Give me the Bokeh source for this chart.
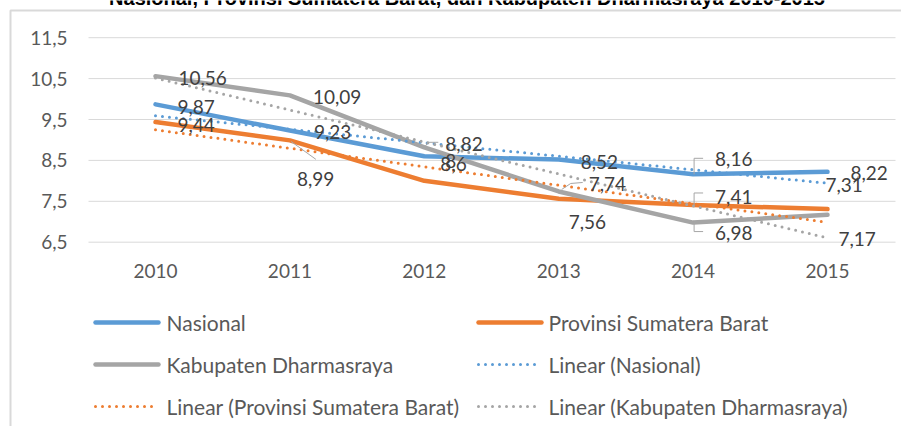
import numpy as np
from bokeh.plotting import figure
from bokeh.models import Range1d, ColumnDataSource
from bokeh.core.properties import value
from bokeh.embed import file_html
from bokeh.resources import INLINE

# ---------------- data ----------------
title_text = "Nasional, Provinsi Sumatera Barat, dan Kabupaten Dharmasraya 2010-2015"
years = [2010, 2011, 2012, 2013, 2014, 2015]
nasional = [9.87, 9.23, 8.6, 8.52, 8.16, 8.22]
provinsi = [9.44, 8.99, 8.0, 7.56, 7.41, 7.31]
kabupaten = [10.56, 10.09, 8.82, 7.74, 6.98, 7.17]
series_names = ["Nasional", "Provinsi Sumatera Barat", "Kabupaten Dharmasraya"]
trend_names = ["Linear (Nasional)", "Linear (Provinsi Sumatera Barat)",
               "Linear (Kabupaten Dharmasraya)"]
y_ticks = [6.5, 7.5, 8.5, 9.5, 10.5, 11.5]
y_tick_labels = ["6,5", "7,5", "8,5", "9,5", "10,5", "11,5"]
x_tick_labels = ["2010", "2011", "2012", "2013", "2014", "2015"]

# ---------------- layout (picture pixels) ----------------
OX, OY = 0, 0            # picture position of the canvas
W, H = 901, 426          # canvas size
X0, SX = 155.0, 134.4    # x of first year, px per year
Y0, SY = 241.7, 40.9     # y of 6.5, px per unit
PLOT_L, PLOT_R = 88, 895
colors = ["#5B9BD5", "#ED7D31", "#A5A5A5"]
FONT = "Lato"


def dx(px):
    return years[0] + (px - X0) / SX


def dy(py):
    return y_ticks[0] + (Y0 - py) / SY


# data-label pixel offsets (left edge dx, centre dy) per series, per year
label_offsets = [
    [(22, 3), (24, 1), (16, 7.5), (22, 2), (22, -15.5), (23, 1)],
    [(22, 3), (7, 39), (21, -20), (10, 23), (22, -8), (-2, -24)],
    [(23, 2), (23, 2), (21, -3), (30, -7), (22, 10), (11, 24)],
]
# leader lines: (series, year index, pixel offsets from the point)
leaders = [
    (1, 1, [(1, 1), (26, 19)]),
    (2, 2, [(0, 0), (4, -5), (14, -5)]),
    (2, 3, [(3, -2), (12, -8), (24, -9)]),
    (0, 4, [(1, 0), (1, -16), (10, -16)]),
    (1, 4, [(1, 0), (1, -12), (10, -12)]),
    (2, 4, [(1, -1), (1, 9), (10, 9)]),
    (0, 5, [(26, 12), (31, 4)]),
]
# legend grid: swatch left, swatch right, text left per column; row centres
leg_cols = [(93, 160, 166), (476, 543, 548)]
leg_rows = [322, 364, 406]

series = [nasional, provinsi, kabupaten]


def fmt(v):
    return f"{v:g}".replace(".", ",")


p = figure(width=W, height=H, output_backend="svg", toolbar_location=None,
           x_range=Range1d(dx(OX), dx(OX + W)), y_range=Range1d(dy(OY + H), dy(OY)),
           x_axis_type=None, y_axis_type=None, min_border=0, title=None)
p.outline_line_color = None
p.grid.visible = False
p.background_fill_color = "white"
p.border_fill_color = "white"

# chart border
p.line([dx(10), dx(10), dx(OX + W + 5)], [dy(OY + H + 5), dy(10), dy(10)],
       line_color="#D9D9D9", line_width=2)

# title (cut by the top edge as in the original)
p.text([dx(466.5)], [dy(-2.5)], text=[title_text], text_font=value("Liberation Sans"),
       text_font_style="bold", text_font_size="20px", text_color="#000000",
       text_align="center", text_baseline="middle")

# horizontal grid lines
p.segment(x0=[dx(PLOT_L)] * len(y_ticks), y0=y_ticks,
          x1=[dx(PLOT_R)] * len(y_ticks), y1=y_ticks,
          line_color="#D9D9D9", line_width=1)

# axis tick labels
p.text([dx(67)] * len(y_ticks), y_ticks, text=y_tick_labels, text_font=value(FONT),
       text_font_size="19px", text_color="#595959", text_align="right",
       text_baseline="middle")
p.text(years, [dy(270)] * len(years), text=x_tick_labels, text_font=value(FONT),
       text_font_size="19px", text_color="#595959", text_align="center",
       text_baseline="middle")

# series lines
for vals, c in zip(series, colors):
    p.line(years, vals, line_color=c, line_width=4.5,
           line_cap="round", line_join="round")

# linear trend lines (least squares fit of each series)
for vals, c in zip(series, colors):
    k, b = np.polyfit(years, vals, 1)
    ty = [k * yr + b for yr in years]
    p.line(years, ty, line_color=c, line_width=3, line_dash="0 7", line_cap="round")

# leader lines
lx, ly = [], []
for si, yi, pts in leaders:
    x0, y0 = years[yi], series[si][yi]
    lx.append([x0 + ox / SX for ox, oy in pts])
    ly.append([y0 - oy / SY for ox, oy in pts])
p.multi_line(lx, ly, line_color="#A6A6A6", line_width=1)

# data labels
xs, ys, txt, xo, yo = [], [], [], [], []
for vals, offs in zip(series, label_offsets):
    for yr, v, (ox, oy) in zip(years, vals, offs):
        xs.append(yr); ys.append(v); txt.append(fmt(v)); xo.append(ox); yo.append(oy)
src = ColumnDataSource(dict(x=xs, y=ys, t=txt, xo=xo, yo=yo))
p.text(x="x", y="y", text="t", x_offset="xo", y_offset="yo", source=src,
       text_font=value(FONT), text_font_size="19px", text_color="#404040",
       text_align="left", text_baseline="middle")

# legend (row-major, two columns)
leg_entries = [(series_names[0], colors[0], False), (series_names[1], colors[1], False),
               (series_names[2], colors[2], False), (trend_names[0], colors[0], True),
               (trend_names[1], colors[1], True), (trend_names[2], colors[2], True)]
for i, (name, c, dotted) in enumerate(leg_entries):
    x_a, x_b, x_t = leg_cols[i % 2]
    ry = dy(leg_rows[i // 2])
    if dotted:
        p.line([dx(x_a + 2), dx(x_b - 2)], [ry, ry], line_color=c, line_width=3,
               line_dash="0 7", line_cap="round")
    else:
        p.line([dx(x_a + 2), dx(x_b - 2)], [ry, ry], line_color=c, line_width=4.5,
               line_cap="round")
    p.text([dx(x_t)], [ry], text=[name], text_font=value(FONT), text_font_size="21px",
           text_color="#595959", text_align="left", text_baseline="middle")

open("out.html", "w").write(file_html(p, INLINE))
